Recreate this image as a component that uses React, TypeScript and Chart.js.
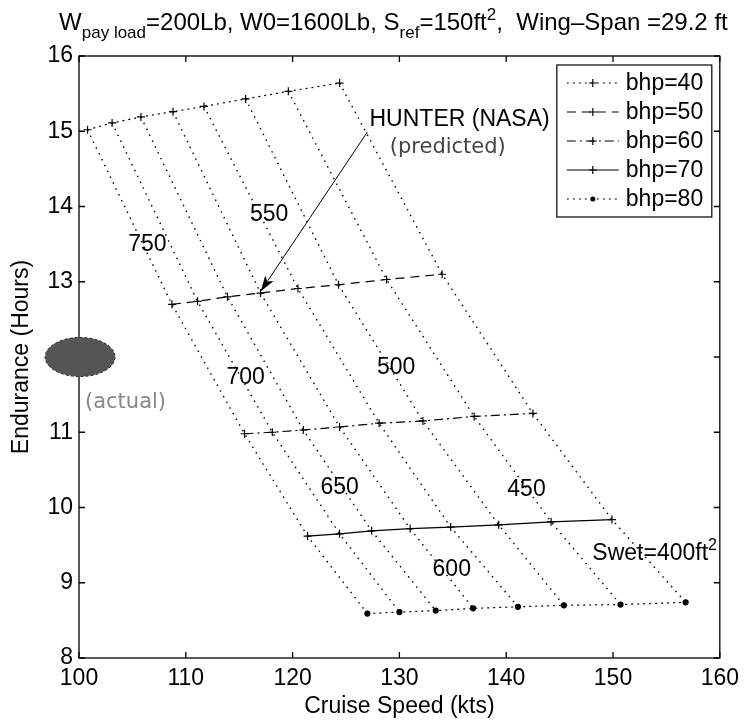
import { useEffect, useRef } from "react";
import { Chart, registerables } from "chart.js";

Chart.register(...registerables);

// Brake horsepower of each constant-power curve
const BHP = [40, 50, 60, 70, 80];
// Wetted area of each constant-area line (ft^2), left to right
const SWET = [750, 700, 650, 600, 550, 500, 450, 400];

// Cruise speed (kts) and endurance (hours) along each bhp curve, one point per Swet
const SPEED_40 = [100.8, 103.1, 105.8, 108.8, 111.7, 115.6, 119.6, 124.4];
const ENDUR_40 = [15.02, 15.11, 15.19, 15.26, 15.33, 15.43, 15.53, 15.64];
const SPEED_50 = [108.7, 111.1, 113.9, 117.0, 120.5, 124.3, 128.8, 134.0];
const ENDUR_50 = [12.7, 12.74, 12.8, 12.85, 12.91, 12.96, 13.03, 13.1];
const SPEED_60 = [115.5, 118.1, 121.0, 124.4, 128.1, 132.2, 137.0, 142.5];
const ENDUR_60 = [10.98, 11.0, 11.03, 11.07, 11.12, 11.15, 11.21, 11.25];
const SPEED_70 = [121.4, 124.4, 127.4, 131.0, 134.8, 139.3, 144.2, 149.9];
const ENDUR_70 = [9.62, 9.65, 9.69, 9.72, 9.74, 9.77, 9.81, 9.84];
const SPEED_80 = [127.0, 130.0, 133.4, 136.9, 141.1, 145.4, 150.7, 156.8];
const ENDUR_80 = [8.59, 8.61, 8.63, 8.66, 8.68, 8.7, 8.71, 8.74];

const SPEEDS = [SPEED_40, SPEED_50, SPEED_60, SPEED_70, SPEED_80];
const ENDURANCES = [ENDUR_40, ENDUR_50, ENDUR_60, ENDUR_70, ENDUR_80];

// Where each Swet value is written (kts, hours)
const SWET_LABEL_X = [106.4, 115.6, 124.4, 134.9, 117.8, 129.7, 141.9, 153.9];
const SWET_LABEL_Y = [13.49, 11.73, 10.26, 9.18, 13.89, 11.86, 10.24, 9.41];

// Measured endurance of the real aircraft and the predicted design point
const ACTUAL_SPEED = 100.1;
const ACTUAL_ENDURANCE = 12.0;
const ARROW_FROM = [127.0, 14.99];
const ARROW_TO = [117.0, 12.87];

const X_TICKS = [100, 110, 120, 130, 140, 150, 160];
const Y_TICKS = [8, 9, 10, 11, 12, 13, 14, 15, 16];

const FONT = "'Liberation Sans', Arial, Helvetica, sans-serif";
const FONT_SIZE = 23;
const TITLE_SIZE = 24;
const NOTE_FONT = "21px 'DejaVu Sans', sans-serif";

const LINE_DASH = [[2, 4], [9, 6], [9, 4, 2, 4], [], [2, 4]];
const POINT_STYLE = ["cross", "cross", "cross", "cross", "circle"];
const POINT_RADIUS = [4, 4, 4, 4, 2.5];

function drawMarker(ctx: CanvasRenderingContext2D, style: string, x: number, y: number, r: number) {
  if (style === "circle") {
    ctx.beginPath();
    ctx.arc(x, y, r, 0, Math.PI * 2);
    ctx.fill();
  } else {
    ctx.beginPath();
    ctx.moveTo(x - r, y);
    ctx.lineTo(x + r, y);
    ctx.moveTo(x, y - r);
    ctx.lineTo(x, y + r);
    ctx.stroke();
  }
}

// Box around the plot with inward tick marks on all four sides
const framePlugin = {
  id: "frame",
  beforeDatasetsDraw(chart: any) {
    const { ctx, chartArea: a, scales } = chart;
    const x = scales.x;
    const y = scales.y;
    const t = 6;
    ctx.save();
    ctx.strokeStyle = "#000";
    ctx.lineWidth = 1.3;
    ctx.strokeRect(a.left, a.top, a.right - a.left, a.bottom - a.top);
    ctx.beginPath();
    x.ticks.forEach((tk: any) => {
      const px = x.getPixelForValue(tk.value);
      ctx.moveTo(px, a.bottom);
      ctx.lineTo(px, a.bottom - t);
      ctx.moveTo(px, a.top);
      ctx.lineTo(px, a.top + t);
    });
    y.ticks.forEach((tk: any) => {
      const py = y.getPixelForValue(tk.value);
      ctx.moveTo(a.left, py);
      ctx.lineTo(a.left + t, py);
      ctx.moveTo(a.right, py);
      ctx.lineTo(a.right - t, py);
    });
    ctx.stroke();
    ctx.restore();
  },
};

type Seg = { t: string; sub?: boolean; sup?: boolean };

function drawRich(ctx: CanvasRenderingContext2D, segs: Seg[], cx: number, baseY: number, size: number, align: "center" | "left") {
  const small = Math.round(size * 0.7);
  const fontOf = (s: Seg) => `${s.sub || s.sup ? small : size}px ${FONT}`;
  let total = 0;
  segs.forEach((s) => {
    ctx.font = fontOf(s);
    total += ctx.measureText(s.t).width;
  });
  let x = align === "center" ? cx - total / 2 : cx;
  ctx.textAlign = "left";
  ctx.textBaseline = "alphabetic";
  segs.forEach((s) => {
    ctx.font = fontOf(s);
    const dy = s.sub ? size * 0.32 : s.sup ? -size * 0.42 : 0;
    ctx.fillText(s.t, x, baseY + dy);
    x += ctx.measureText(s.t).width;
  });
}

const TITLE: Seg[] = [
  { t: "W" },
  { t: "pay load", sub: true },
  { t: "=200Lb, W0=1600Lb, S" },
  { t: "ref", sub: true },
  { t: "=150ft" },
  { t: "2", sup: true },
  { t: ",  Wing\u2013Span =29.2 ft" },
];

const notesPlugin = {
  id: "notes",
  afterDraw(chart: any) {
    const { ctx, chartArea: a, scales } = chart;
    const x = scales.x;
    const y = scales.y;
    ctx.save();
    ctx.fillStyle = "#000";

    // Title
    drawRich(ctx, TITLE, (a.left + a.right) / 2 - 6, 30, TITLE_SIZE, "center");

    // Swet labels
    SWET.forEach((s, i) => {
      const px = x.getPixelForValue(SWET_LABEL_X[i]);
      const py = y.getPixelForValue(SWET_LABEL_Y[i]);
      if (i === SWET.length - 1) {
        drawRich(ctx, [{ t: `Swet=${s}ft` }, { t: "2", sup: true }], px, py + 8, FONT_SIZE, "center");
      } else {
        ctx.textAlign = "center";
        ctx.textBaseline = "middle";
        ctx.font = `${FONT_SIZE}px ${FONT}`;
        ctx.fillText(String(s), px, py);
      }
    });

    // Arrow to the predicted point
    const x0 = x.getPixelForValue(ARROW_FROM[0]);
    const y0 = y.getPixelForValue(ARROW_FROM[1]);
    const x1 = x.getPixelForValue(ARROW_TO[0]);
    const y1 = y.getPixelForValue(ARROW_TO[1]);
    const ang = Math.atan2(y1 - y0, x1 - x0);
    const hl = 16;
    const hw = 5;
    ctx.strokeStyle = "#000";
    ctx.lineWidth = 1;
    ctx.beginPath();
    ctx.moveTo(x0, y0);
    ctx.lineTo(x1 - Math.cos(ang) * hl * 0.8, y1 - Math.sin(ang) * hl * 0.8);
    ctx.stroke();
    ctx.beginPath();
    ctx.moveTo(x1, y1);
    ctx.lineTo(x1 - Math.cos(ang) * hl - Math.sin(ang) * hw, y1 - Math.sin(ang) * hl + Math.cos(ang) * hw);
    ctx.lineTo(x1 - Math.cos(ang) * hl * 0.75, y1 - Math.sin(ang) * hl * 0.75);
    ctx.lineTo(x1 - Math.cos(ang) * hl + Math.sin(ang) * hw, y1 - Math.sin(ang) * hl - Math.cos(ang) * hw);
    ctx.closePath();
    ctx.fill();

    ctx.textAlign = "left";
    ctx.textBaseline = "middle";
    ctx.font = `${FONT_SIZE}px ${FONT}`;
    ctx.fillStyle = "#000";
    ctx.fillText("HUNTER (NASA)", x.getPixelForValue(127.2), y.getPixelForValue(15.15));
    ctx.font = NOTE_FONT;
    ctx.fillStyle = "#444";
    ctx.fillText("(predicted)", x.getPixelForValue(129.1), y.getPixelForValue(14.78));

    // Actual endurance marker
    const ex = x.getPixelForValue(ACTUAL_SPEED);
    const ey = y.getPixelForValue(ACTUAL_ENDURANCE);
    const rx = x.getPixelForValue(ACTUAL_SPEED + 3.27) - ex;
    const ry = ey - y.getPixelForValue(ACTUAL_ENDURANCE + 0.26);
    ctx.beginPath();
    ctx.ellipse(ex, ey, rx, ry, 0, 0, Math.PI * 2);
    ctx.fillStyle = "#555";
    ctx.fill();
    ctx.setLineDash([3, 2]);
    ctx.strokeStyle = "#222";
    ctx.stroke();
    ctx.setLineDash([]);
    ctx.font = NOTE_FONT;
    ctx.fillStyle = "#888";
    ctx.fillText("(actual)", x.getPixelForValue(100.56), y.getPixelForValue(11.39));

    // Legend
    const lw = 155;
    const lh = 152;
    const lx = a.right - 8 - lw;
    const ly = a.top + 9;
    ctx.fillStyle = "#fff";
    ctx.fillRect(lx, ly, lw, lh);
    ctx.strokeStyle = "#000";
    ctx.lineWidth = 1.2;
    ctx.strokeRect(lx, ly, lw, lh);
    BHP.forEach((b, i) => {
      const ry2 = ly + 18 + i * 29;
      ctx.strokeStyle = "#000";
      ctx.fillStyle = "#000";
      ctx.lineWidth = 1.2;
      ctx.setLineDash(LINE_DASH[i]);
      ctx.beginPath();
      ctx.moveTo(lx + 10, ry2);
      ctx.lineTo(lx + 62, ry2);
      ctx.stroke();
      ctx.setLineDash([]);
      drawMarker(ctx, POINT_STYLE[i], lx + 36, ry2, POINT_RADIUS[i]);
      ctx.font = `${FONT_SIZE}px ${FONT}`;
      ctx.textAlign = "left";
      ctx.textBaseline = "middle";
      ctx.fillText(`bhp=${b}`, lx + 69, ry2 + 1);
    });
    ctx.restore();
  },
};

export default function App() {
  const ref = useRef<HTMLCanvasElement | null>(null);

  useEffect(() => {
    if (!ref.current) return;

    // Constant-Swet lines join the i-th point of every bhp curve
    const swetSets = SWET.map((s, i) => ({
      label: `Swet=${s}`,
      data: SPEEDS.map((sp, k) => ({ x: sp[i], y: ENDURANCES[k][i] })),
      borderColor: "#000",
      borderWidth: 1.4,
      borderDash: [1.5, 5],
      pointRadius: 0,
      fill: false,
      tension: 0,
    }));

    const bhpSets = BHP.map((b, k) => ({
      label: `bhp=${b}`,
      data: SPEEDS[k].map((sp, i) => ({ x: sp, y: ENDURANCES[k][i] })),
      borderColor: "#000",
      backgroundColor: "#000",
      borderWidth: 1.2,
      borderDash: LINE_DASH[k],
      pointStyle: POINT_STYLE[k],
      pointRadius: POINT_RADIUS[k],
      pointBorderColor: "#000",
      pointBackgroundColor: "#000",
      pointBorderWidth: 1.2,
      fill: false,
      tension: 0,
    }));

    const chart = new Chart(ref.current, {
      type: "line",
      data: { datasets: [...swetSets, ...bhpSets] as any },
      options: {
        animation: false,
        responsive: false,
        devicePixelRatio: 1,
        layout: { padding: { top: 56, right: 25, left: 0, bottom: 0 } },
        plugins: { legend: { display: false }, tooltip: { enabled: false }, title: { display: false } },
        scales: {
          x: {
            type: "linear",
            min: 100,
            max: 160,
            afterBuildTicks: (s: any) => {
              s.ticks = X_TICKS.map((v) => ({ value: v }));
            },
            afterFit: (s: any) => {
              s.height = 68;
            },
            grid: { display: false, drawTicks: false },
            border: { display: false },
            ticks: { color: "#000", font: { family: FONT, size: FONT_SIZE }, padding: 7, maxRotation: 0 },
            title: {
              display: true,
              text: "Cruise Speed (kts)",
              color: "#000",
              font: { family: FONT, size: FONT_SIZE },
              padding: { top: 0, bottom: 6 },
            },
          },
          y: {
            type: "linear",
            min: 8,
            max: 16,
            afterBuildTicks: (s: any) => {
              s.ticks = Y_TICKS.map((v) => ({ value: v }));
            },
            afterFit: (s: any) => {
              s.width = 79;
            },
            grid: { display: false, drawTicks: false },
            border: { display: false },
            ticks: { color: "#000", font: { family: FONT, size: FONT_SIZE }, padding: 6 },
            title: {
              display: true,
              text: "Endurance (Hours)",
              color: "#000",
              font: { family: FONT, size: FONT_SIZE },
              padding: { top: 8, bottom: 0 },
            },
          },
        },
      },
      plugins: [framePlugin, notesPlugin],
    });

    return () => chart.destroy();
  }, []);

  return (
    <div style={{ position: "absolute", left: 0, top: 0, width: 746, height: 726, background: "#fff" }}>
      <canvas ref={ref} width={746} height={726} style={{ display: "block" }} />
    </div>
  );
}
